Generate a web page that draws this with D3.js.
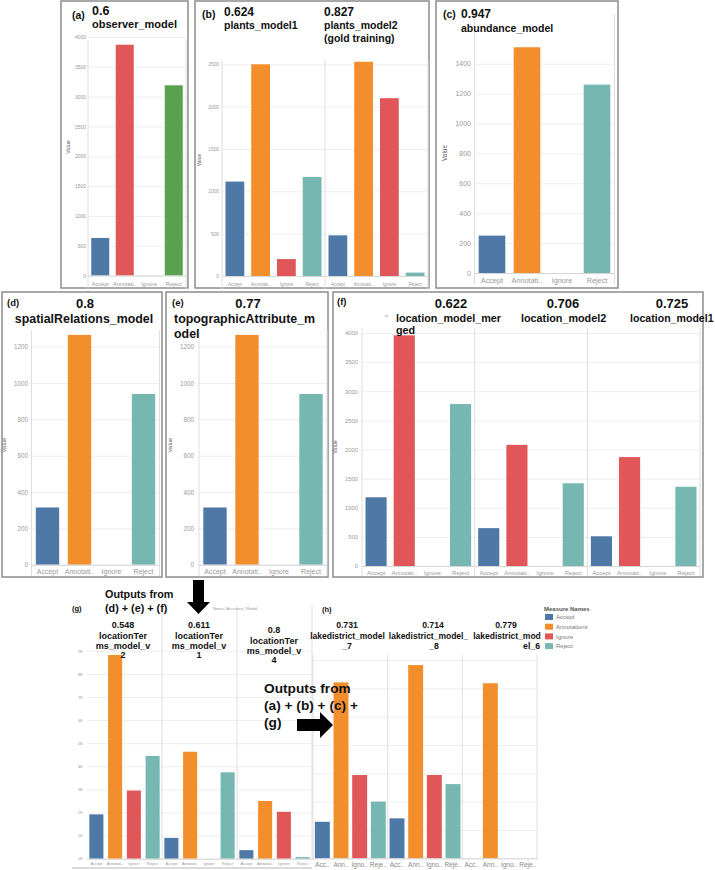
<!DOCTYPE html>
<html><head><meta charset="utf-8">
<script src="https://cdn.jsdelivr.net/npm/d3@7"></script>
<style>body{margin:0;background:#fff}svg{display:block}</style>
</head><body><svg id="c" width="715" height="870"></svg>
<script>
// ---------- DATA ----------
const categories = ["Accept", "Annotations", "Ignore", "Reject"];
const xLabelsShort = ["Accept", "Annotati..", "Ignore", "Reject"];
const xLabelsTiny = ["Acc..", "Ann..", "Igno..", "Reje.."];

const observerValues   = [630, 3870, 0, 3190];
const plants1Values    = [1115, 2500, 200, 1170];
const plants2Values    = [480, 2530, 2100, 40];
const abundanceValues  = [250, 1510, 0, 1260];
const spatialValues    = [315, 1265, 0, 940];
const topoValues       = [315, 1265, 0, 940];
const locMergedValues  = [1180, 3960, 0, 2780];
const loc2Values       = [650, 2080, 0, 1420];
const loc1Values       = [510, 1870, 0, 1360];
const ltV2Values       = [1920, 8820, 2950, 4450];
const ltV1Values       = [900, 4630, 0, 3740];
const ltV4Values       = [370, 2500, 2030, 70];
const lake7Values      = [645, 3105, 1470, 1000];
const lake8Values      = [705, 3410, 1470, 1310];
const lake6Values      = [0, 3090, 0, 0];

const ticks4000 = [0, 500, 1000, 1500, 2000, 2500, 3000, 3500, 4000];
const ticks2500 = [0, 500, 1000, 1500, 2000, 2500];
const ticks1400 = [0, 200, 400, 600, 800, 1000, 1200, 1400];
const ticks1200 = [0, 200, 400, 600, 800, 1000, 1200];
const ticksK    = [0, 1000, 2000, 3000, 4000, 5000, 6000, 7000, 8000, 9000];
const tickLabelsK = ["0K", "1K", "2K", "3K", "4K", "5K", "6K", "7K", "8K", "9K"];
const ticks3500 = [0, 500, 1000, 1500, 2000, 2500, 3000, 3500];

const legendTitle = "Measure Names";

// ---------- STYLE ----------
const COL = {blue:"#4e79a7", orange:"#f28e2b", red:"#e15759", teal:"#76b7b2", green:"#59a14f"};
const stdColors = [COL.blue, COL.orange, COL.red, COL.teal];
const FONT = "'Liberation Sans', Arial, Helvetica, sans-serif";
const svg = d3.select("#c");

function drawChart(s) {
  const g = svg.append("g");
  if (s.box) g.append("rect").attr("x", s.box[0]).attr("y", s.box[1]).attr("width", s.box[2]).attr("height", s.box[3])
      .attr("fill", "none").attr("stroke", "#8c8c8c").attr("stroke-width", 1.5);
  const y = d3.scaleLinear().domain([0, s.ticks[s.ticks.length - 1]]).range([s.zeroY, s.topY]);
  g.append("g").attr("transform", `translate(${s.left},0)`)
    .call(d3.axisLeft(y).tickValues(s.ticks).tickSize(-(s.right - s.left)).tickFormat(""))
    .call(a => a.select(".domain").remove())
    .selectAll("line").attr("stroke", "#eeeeee");
  if (s.tickX !== undefined) {
    const ax = g.append("g").attr("transform", `translate(${s.tickX},0)`)
      .call(d3.axisLeft(y).tickValues(s.ticks).tickSize(0).tickPadding(0)
        .tickFormat((d, i) => s.tickFmt ? s.tickFmt[i] : d));
    ax.select(".domain").remove();
    ax.selectAll("text").attr("font-size", s.tickFont).attr("fill", "#999").attr("font-family", FONT);
  }
  const n = s.panes.length, pw = (s.right - s.left) / n;
  s.panes.forEach((vals, i) => {
    const x = d3.scaleBand().domain(categories).range([s.left + i * pw, s.left + (i + 1) * pw])
      .paddingInner(s.pad).paddingOuter(s.pad / 2);
    g.append("g").selectAll("rect")
      .data(categories.map((c, k) => ({c, k, v: vals[k]})).filter(d => d.v > 0))
      .join("rect")
      .attr("x", d => x(d.c)).attr("y", d => y(d.v))
      .attr("width", x.bandwidth()).attr("height", d => y(0) - y(d.v))
      .attr("fill", d => s.colors[d.k]);
    const xa = g.append("g").attr("transform", `translate(0,${s.xLabelY})`)
      .call(d3.axisBottom(x).tickSize(0).tickPadding(0).tickFormat((d, k) => s.xLabels[k]));
    xa.select(".domain").remove();
    xa.selectAll("text").attr("y", 0).attr("dy", "0.35em").attr("font-size", s.xFont)
      .attr("fill", s.xColor || "#999").attr("font-family", FONT);
  });
  g.append("line").attr("x1", s.left).attr("x2", s.right).attr("y1", s.zeroY + 0.5).attr("y2", s.zeroY + 0.5)
    .attr("stroke", "#d6d6d6");
  d3.range(n + 1).forEach(i => {
    if (i === 0 && !s.leftLine) return;
    const xx = s.left + i * pw;
    g.append("line").attr("x1", xx).attr("x2", xx).attr("y1", s.divTop).attr("y2", s.divBottom)
      .attr("stroke", "#dedede");
  });
  if (s.valueLabel) g.append("text").attr("transform", `translate(${s.valueLabel[0]},${s.valueLabel[1]}) rotate(-90)`)
      .attr("text-anchor", "middle").attr("font-size", s.valueFont).attr("fill", "#666").attr("font-family", FONT).text("Value");
  (s.titles || []).forEach(t => {
    g.append("text").attr("x", t[1]).attr("y", t[2]).attr("font-size", t[3])
      .attr("font-weight", t[5] === "n" ? "normal" : "bold").attr("font-family", FONT)
      .attr("fill", t[5] === "n" ? "#999" : "#111")
      .attr("text-anchor", t[4] || "start").text(t[0]);
  });
}

// (a)
drawChart({box: [61, 1, 127, 287], left: 88, right: 186, zeroY: 275.5, topY: 37, ticks: ticks4000,
  tickX: 86, tickFont: 5, panes: [observerValues], colors: [COL.blue, COL.red, COL.orange, COL.green], pad: 0.265,
  xLabels: xLabelsShort, xLabelY: 284, xFont: 5.6, divTop: 40, divBottom: 290, leftLine: true,
  valueLabel: [70, 147], valueFont: 5.5,
  titles: [["(a)", 72, 19, 10.5], ["0.6", 92, 15, 12.5], ["observer_model", 92, 27.5, 11]]});
// (b)
drawChart({box: [195, 1, 234, 287], left: 222, right: 428, zeroY: 276, topY: 64.3, ticks: ticks2500,
  tickX: 219, tickFont: 4.8, panes: [plants1Values, plants2Values], colors: stdColors, pad: 0.27,
  xLabels: xLabelsShort, xLabelY: 284, xFont: 4.7, divTop: 60, divBottom: 290, leftLine: true,
  valueLabel: [201, 160], valueFont: 5,
  titles: [["(b)", 202, 18, 10.5], ["0.624", 224, 15.5, 12], ["plants_model1", 224, 28.5, 10.5],
           ["0.827", 324, 15.5, 12], ["plants_model2", 324, 28.5, 10.5], ["(gold training)", 324, 41.5, 10.5]]});
// (c)
drawChart({box: [436, 1, 182, 287], left: 474.5, right: 614.5, zeroY: 273, topY: 63.7, ticks: ticks1400,
  tickX: 471, tickFont: 7, panes: [abundanceValues], colors: stdColors, pad: 0.24,
  xLabels: xLabelsShort, xLabelY: 280, xFont: 7.3, divTop: 14, divBottom: 284, leftLine: true,
  valueLabel: [447, 153], valueFont: 6.5,
  titles: [["(c)", 443, 18, 10.5], ["0.947", 461, 18, 12], ["abundance_model", 461, 31.5, 10.5]]});
// (d)
drawChart({box: [2, 292, 160, 285], left: 31.5, right: 159.5, zeroY: 564.7, topY: 346.7, ticks: ticks1200,
  tickX: 28, tickFont: 6.3, panes: [spatialValues], colors: stdColors, pad: 0.27,
  xLabels: xLabelsShort, xLabelY: 571.7, xFont: 7, divTop: 330, divBottom: 576, leftLine: true,
  valueLabel: [6, 445], valueFont: 6,
  titles: [["(d)", 7, 305.5, 9.5], ["0.8", 85, 308, 13, "middle"], ["spatialRelations_model", 84, 323, 12.4, "middle"]]});
// (e)
drawChart({box: [166, 292, 162, 285], left: 199, right: 327, zeroY: 564.7, topY: 346.7, ticks: ticks1200,
  tickX: 194, tickFont: 6.3, panes: [topoValues], colors: stdColors, pad: 0.27,
  xLabels: xLabelsShort, xLabelY: 571.7, xFont: 7, divTop: 330, divBottom: 576, leftLine: true,
  valueLabel: [172, 445], valueFont: 6,
  titles: [["(e)", 172, 305.5, 9.5], ["0.77", 248, 308, 13, "middle"], ["topographicAttribute_m", 174, 323, 12.4],
           ["odel", 174, 338, 12.4]]});
// (f)
drawChart({box: [333, 292, 370, 285], left: 362, right: 700, zeroY: 566, topY: 333, ticks: ticks4000,
  tickX: 358, tickFont: 5.8, panes: [locMergedValues, loc2Values, loc1Values],
  colors: [COL.blue, COL.red, COL.orange, COL.teal], pad: 0.25,
  xLabels: xLabelsShort, xLabelY: 572.7, xFont: 6, divTop: 328, divBottom: 576, leftLine: true,
  valueLabel: [337, 447], valueFont: 5.5,
  titles: [["(f)", 337, 305, 9.5], ["0.622", 451, 308, 13, "middle"], ["location_model_mer", 396, 321.5, 10.8],
           ["ged", 396, 334, 10.8], ["0.706", 563, 308, 13, "middle"], ["location_model2", 521, 321.5, 10.8],
           ["0.725", 672, 308, 13, "middle"], ["location_model1", 630, 321.5, 10.6], ["lo", 385, 317, 4, "start", "n"]]});
// (g)
drawChart({left: 87, right: 312, zeroY: 858.7, topY: 650.8, ticks: ticksK, tickFmt: tickLabelsK,
  tickX: 83, tickFont: 4, panes: [ltV2Values, ltV1Values, ltV4Values], colors: stdColors, pad: 0.25,
  xLabels: xLabelsShort, xLabelY: 863.5, xFont: 3.9, divTop: 606, divBottom: 860, leftLine: false,
  titles: [["(g)", 72, 611, 7.5],
    ["0.548", 123, 628, 9, "middle"], ["locationTer", 123, 639, 9, "middle"], ["ms_model_v", 123, 649, 9, "middle"], ["2", 123, 658, 9, "middle"],
    ["0.611", 199, 628, 9, "middle"], ["locationTer", 199, 639, 9, "middle"], ["ms_model_v", 199, 649, 9, "middle"], ["1", 199, 658, 9, "middle"],
    ["0.8", 274, 633, 9, "middle"], ["locationTer", 274, 644, 9, "middle"], ["ms_model_v", 274, 654, 9, "middle"], ["4", 274, 663, 9, "middle"],
    ["Notes / Accuracy / Model", 213, 610, 4, "start", "n"]]});
svg.append("line").attr("x1", 72).attr("x2", 312).attr("y1", 868).attr("y2", 868).attr("stroke", "#cfcfcf").attr("stroke-width", 1.5);
// (h)
drawChart({left: 313, right: 537, zeroY: 858.3, topY: 660, ticks: ticks3500,
  panes: [lake7Values, lake8Values, lake6Values], colors: stdColors, pad: 0.2,
  xLabels: xLabelsTiny, xLabelY: 865, xFont: 6.5, xColor: "#888", divTop: 655, divBottom: 860, leftLine: true,
  titles: [["(h)", 322, 612, 7.5],
    ["0.731", 347, 628, 8.7, "middle"], ["lakedistrict_model", 347.5, 639, 8.5, "middle"], ["_7", 347, 649, 8.7, "middle"],
    ["0.714", 433, 628, 8.7, "middle"], ["lakedistrict_model_", 428.5, 639, 8.5, "middle"], ["_8", 434, 649, 8.7, "middle"],
    ["0.779", 506, 628, 8.7, "middle"], ["lakedistrict_mod", 507, 639, 8.5, "middle"], ["el_6", 540, 649, 8.7, "end"]]});

// legend
const lg = svg.append("g");
lg.append("text").attr("x", 544).attr("y", 611).attr("font-size", 6).attr("font-weight", "bold")
  .attr("fill", "#555").attr("font-family", FONT).text(legendTitle);
categories.forEach((c, i) => {
  const cy = 617 + i * 9.7;
  lg.append("rect").attr("x", 545).attr("y", cy - 3).attr("width", 8).attr("height", 6).attr("fill", stdColors[i]);
  lg.append("text").attr("x", 556).attr("y", cy + 2.2).attr("font-size", 6).attr("fill", "#777")
    .attr("font-family", FONT).text(c);
});

// annotations & arrows
const ann = svg.append("g").attr("font-family", FONT).attr("font-weight", "bold").attr("fill", "#111");
[["Outputs from", 105, 598, 10.8], ["(d) + (e) + (f)", 105, 612, 10.8],
 ["Outputs from", 264, 693, 13.7], ["(a) + (b) + (c) +", 264, 710, 13.7], ["(g)", 264, 727, 13.7]]
 .forEach(t => ann.append("text").attr("x", t[1]).attr("y", t[2]).attr("font-size", t[3]).text(t[0]));
svg.append("path").attr("d", "M193,580 L204,580 L204,602 L210,602 L198.5,614 L187,602 L193,602 Z").attr("fill", "#000");
svg.append("path").attr("d", "M297,719 L320,719 L320,712 L333,725 L320,738 L320,731 L297,731 Z").attr("fill", "#000");
</script></body></html>
